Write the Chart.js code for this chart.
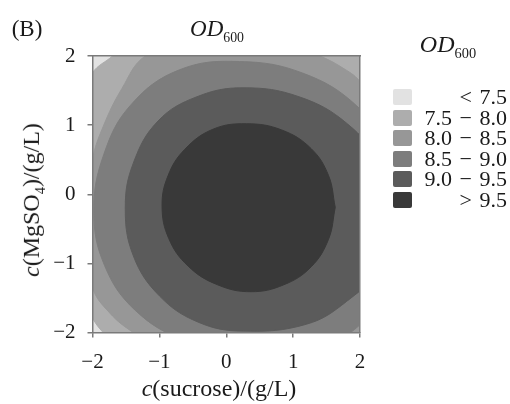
<!DOCTYPE html>
<html><head><meta charset="utf-8">
<script src="https://cdn.jsdelivr.net/npm/chart.js@4.4.0/dist/chart.umd.min.js"></script>
<style>
html,body{margin:0;padding:0;background:#fff;}
#wrap{position:relative;width:510px;height:404px;overflow:hidden;font-family:"Liberation Serif","Times New Roman",serif;color:#1a1a1a;}
#c{position:absolute;left:0;top:0;}
.t{position:absolute;white-space:nowrap;line-height:1;transform:translate(-50%,-50%);}
#panel{left:27px;top:28px;font-size:23px;}
#title{left:217px;top:31px;font-size:23px;}
#ltitle{left:448px;top:46px;font-size:24px;}
#xt{left:219px;top:388px;font-size:24px;}
#yt{left:33px;top:200px;font-size:24px;transform:translate(-50%,-50%) rotate(-90deg);}
.sub{font-size:60%;vertical-align:-0.4em;font-style:normal;}
.lrow{position:absolute;left:393px;width:114px;height:0;}
.sw{position:absolute;left:0;top:-8px;width:19px;height:16px;border-radius:2px;}
.lt{position:absolute;right:0;top:-11px;font-size:22px;line-height:22px;white-space:nowrap;word-spacing:2px;}
</style></head><body>
<div id="wrap">
<canvas id="c" width="510" height="404"></canvas>
<div class="t" id="panel">(B)</div>
<div class="t" id="title"><i>OD</i><span class="sub">600</span></div>
<div class="t" id="ltitle"><i>OD</i><span class="sub">600</span></div>
<div class="t" id="xt"><i>c</i>(sucrose)/(g/L)</div>
<div class="t" id="yt"><i>c</i>(MgSO<span class="sub">4</span>)/(g/L)</div>
<div id="legend"></div>
</div>
<script>
// ---- data ----
const levelLabels = ['< 7.5', '7.5 − 8.0', '8.0 − 8.5', '8.5 − 9.0', '9.0 − 9.5', '> 9.5'];
const levelColors = ['#e2e2e2', '#adadad', '#979797', '#7d7d7d', '#5b5b5b', '#393939'];
const xTickLabels = ['−2', '−1', '0', '1', '2'];
const yTickLabels = ['−2', '−1', '0', '1', '2'];

// contour OD = 7.5 (boundary of the 7.5–8.0 region)
const contour75 = [
  {x:3.2,y:0},{x:3.0,y:2.3},{x:1.5,y:2.9},{x:-0.5,y:2.75},{x:-1.3,y:2.35},{x:-1.70,y:2.0},
  {x:-2.0,y:1.76},{x:-2.3,y:1.2},{x:-2.45,y:0},{x:-2.3,y:-1.2},{x:-2.0,y:-1.79},{x:-1.84,y:-2.0},
  {x:-1.4,y:-2.4},{x:0,y:-2.8},{x:1.8,y:-2.8},{x:3.0,y:-2.0},{x:3.2,y:0}
];
// contour OD = 8.0
const contour80 = [
  {x:2.7,y:-0.3},{x:2.5,y:0.9},{x:2.0,y:1.63},{x:1.72,y:1.84},{x:1.40,y:2.0},{x:0.6,y:2.3},
  {x:-0.4,y:2.3},{x:-1.21,y:2.0},{x:-1.56,y:1.53},{x:-1.84,y:0.98},{x:-2.0,y:0.5},{x:-2.1,y:-0.4},
  {x:-2.0,y:-1.34},{x:-1.74,y:-1.72},{x:-1.39,y:-2.0},{x:-0.8,y:-2.35},{x:0.3,y:-2.6},{x:1.4,y:-2.55},
  {x:2.2,y:-2.15},{x:2.6,y:-1.3},{x:2.7,y:-0.3}
];
// contour OD = 8.5
const contour85 = [
  {x:2.67,y:-0.35},{x:2.48,y:0.58},{x:1.95,y:1.28},{x:1.15,y:1.75},{x:0.2,y:1.92},{x:-0.70,y:1.80},
  {x:-1.42,y:1.30},{x:-1.83,y:0.58},{x:-1.98,y:-0.25},{x:-1.82,y:-1.03},{x:-1.36,y:-1.68},{x:-0.63,y:-2.11},
  {x:0.2,y:-2.26},{x:1.3,y:-2.25},{x:2.1,y:-1.8},{x:2.55,y:-1.1},{x:2.67,y:-0.35}
];
// contour OD = 9.0
const contour90 = [
  {x:2.45,y:-0.35},{x:2.28,y:0.45},{x:1.81,y:1.02},{x:1.09,y:1.41},{x:0.25,y:1.54},{x:-0.44,y:1.41},
  {x:-1.02,y:1.06},{x:-1.39,y:0.45},{x:-1.51,y:-0.2},{x:-1.39,y:-0.89},{x:-1.0,y:-1.47},{x:-0.42,y:-1.85},
  {x:0.25,y:-1.98},{x:1.2,y:-1.88},{x:1.8,y:-1.55},{x:2.3,y:-1.05},{x:2.45,y:-0.35}
];
// contour OD = 9.5
const contour95 = [
  {x:1.63,y:-0.19},{x:1.53,y:0.27},{x:1.27,y:0.66},{x:0.83,y:0.93},{x:0.30,y:1.02},{x:-0.20,y:0.94},
  {x:-0.62,y:0.65},{x:-0.87,y:0.27},{x:-0.96,y:-0.17},{x:-0.86,y:-0.64},{x:-0.57,y:-1.04},{x:-0.13,y:-1.31},
  {x:0.37,y:-1.41},{x:0.86,y:-1.31},{x:1.27,y:-1.05},{x:1.53,y:-0.65},{x:1.63,y:-0.19}
];

// ---- legend (HTML) ----
const legend = document.getElementById('legend');
levelLabels.forEach((lab, i) => {
  const row = document.createElement('div');
  row.className = 'lrow';
  row.style.top = (97 + i * 20.6) + 'px';
  const sw = document.createElement('span');
  sw.className = 'sw'; sw.style.background = levelColors[i];
  const tx = document.createElement('span');
  tx.className = 'lt'; tx.textContent = lab;
  row.appendChild(sw); row.appendChild(tx);
  legend.appendChild(row);
});

// ---- chart ----
const contours = [contour95, contour90, contour85, contour80, contour75];
const colorIdx = [5, 4, 3, 2, 1];
const datasets = contours.map((pts, k) => ({
  label: levelLabels[colorIdx[k]],
  data: pts,
  showLine: true,
  fill: 'shape',
  backgroundColor: levelColors[colorIdx[k]],
  borderColor: levelColors[colorIdx[k]],
  borderWidth: 1,
  pointRadius: 0,
  pointHoverRadius: 0,
  tension: 0.4,
  capBezierPoints: false
}));

const areaBg = {
  id: 'areaBg',
  beforeDatasetsDraw(chart) {
    const {ctx, chartArea: a} = chart;
    ctx.save();
    ctx.fillStyle = levelColors[0];
    ctx.fillRect(a.left, a.top, a.right - a.left, a.bottom - a.top);
    ctx.restore();
  }
};

const axisColor = '#7a7a7a';
const tickFont = {family: '"Liberation Serif","Times New Roman",serif', size: 21};

new Chart(document.getElementById('c'), {
  type: 'scatter',
  data: {datasets},
  plugins: [areaBg],
  options: {
    responsive: false,
    animation: false,
    devicePixelRatio: 1,
    events: [],
    layout: {padding: {left: 0, top: 56, right: 150, bottom: 0}},
    plugins: {legend: {display: false}, tooltip: {enabled: false}, title: {display: false}},
    scales: {
      x: {
        type: 'linear', position: 'bottom', min: -2, max: 2,
        afterFit: s => { s.height = 71.5; },
        ticks: {stepSize: 1, padding: 12, color: '#1a1a1a', font: tickFont,
                callback: (v, i) => xTickLabels[i], maxRotation: 0},
        grid: {drawOnChartArea: false, drawTicks: true, tickLength: 5, color: axisColor, lineWidth: 1.5},
        border: {display: true, color: axisColor, width: 1.5, z: 1}
      },
      y: {
        type: 'linear', position: 'left', min: -2, max: 2,
        afterFit: s => { s.width = 92.5; },
        ticks: {stepSize: 1, padding: 12, color: '#1a1a1a', font: tickFont,
                callback: (v, i) => yTickLabels[i]},
        grid: {drawOnChartArea: false, drawTicks: true, tickLength: 5, color: axisColor, lineWidth: 1.5},
        border: {display: true, color: axisColor, width: 1.5, z: 1}
      },
      x2: {
        type: 'linear', position: 'top', min: -2, max: 2,
        afterFit: s => { s.height = 0; },
        ticks: {display: false}, grid: {display: false, drawTicks: false},
        border: {display: true, color: axisColor, width: 1.5, z: 1}
      },
      y2: {
        type: 'linear', position: 'right', min: -2, max: 2,
        afterFit: s => { s.width = 0; },
        ticks: {display: false}, grid: {display: false, drawTicks: false},
        border: {display: true, color: axisColor, width: 1.5, z: 1}
      }
    }
  }
});
</script>
</body></html>
